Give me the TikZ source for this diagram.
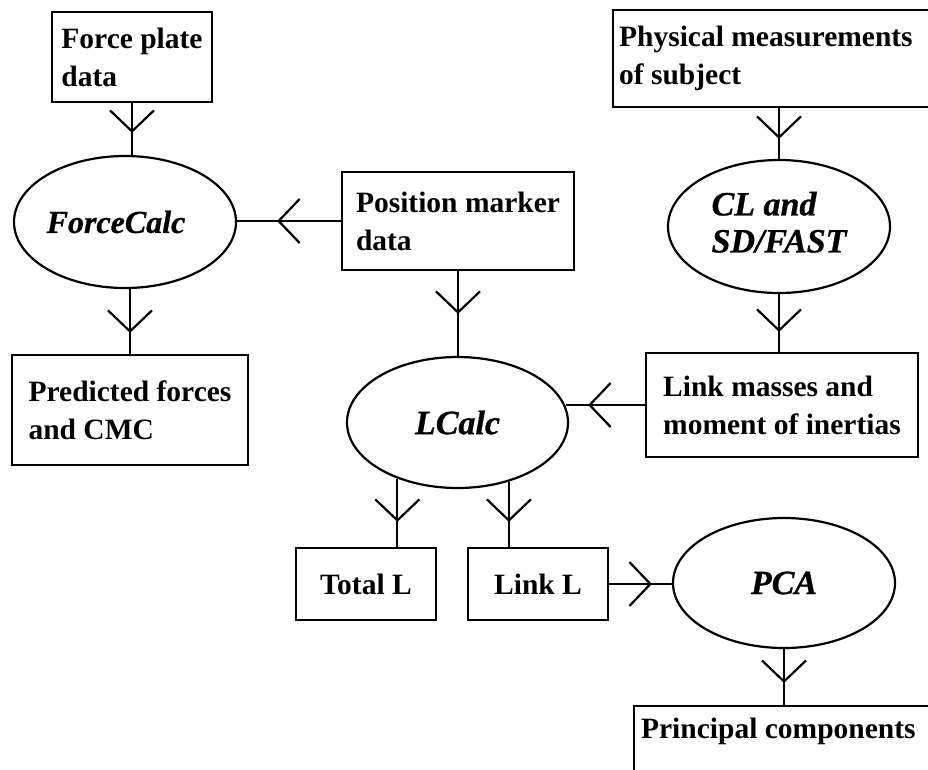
\documentclass[tikz,border=0pt]{standalone}
\usepackage{fontspec}
\setmainfont{Liberation Serif}[BoldItalicFeatures={FakeBold=0.8}]
\usetikzlibrary{shapes.geometric,arrows.meta,decorations.markings}
\begin{document}
\begin{tikzpicture}[x=1pt,y=-1pt,
  every node/.style={font=\fontsize{29.5}{38}\selectfont\bfseries},
  box/.style={draw, line width=2.2pt, rectangle, inner sep=0pt, align=left},
  proc/.style={draw, line width=2.2pt, ellipse, inner sep=0pt, minimum width=222pt, minimum height=132pt, align=left, font=\fontsize{34}{37}\selectfont\bfseries\itshape},
  link/.style={line width=2.2pt},
  flowto/.style={link, postaction={decorate}, decoration={markings, mark=at position -#1 with {\arrow{Straight Barb[length=21pt,width=44pt,line width=2.2pt]}}}},
]
\path[use as bounding box, clip] (0,0) rectangle (928,769);

% boxes
\node[box, minimum width=160pt, minimum height=90pt] (FP) at (132,57) {Force plate\\data};
\node[box, minimum width=232pt, minimum height=98pt] (Pos) at (458,221) {Position marker\\data};
\node[box, anchor=north west, text width=326pt, inner xsep=6pt, minimum height=97pt, align=flush left] (Phys) at (612,9) {Physical measurements\\of subject};
\node[box, minimum width=236pt, minimum height=110pt] (Pred) at (130,410) {Predicted forces\\and CMC};
\node[box, minimum width=272pt, minimum height=104pt] (LM) at (782,405) {Link masses and\\moment of inertias};
\node[box, minimum width=140pt, minimum height=72pt] (Total) at (366,584) {Total L};
\node[box, minimum width=140pt, minimum height=72pt] (LinkL) at (538,584) {Link L};
\node[box, anchor=north west, text width=310pt, inner xsep=7pt, inner ysep=12pt, align=flush left] (PC) at (633,705) {Principal components\\\strut};

% processes
\node[proc, font=\fontsize{32}{37}\selectfont\bfseries\itshape] (FC) at (125,222) {ForceCalc\hspace*{18pt}};
\node[proc, minimum height=133pt] (CL) at (779,226.5) {\raisebox{5pt}{\begin{tabular}{@{}l@{}}CL and\\SD/FAST\end{tabular}}};
\node[proc, minimum width=221pt, minimum height=131pt] (LC) at (457.5,422.5) {LCalc};
\node[proc, minimum height=130pt] (PCA) at (784,583) {PCA};

% connectors
\draw[flowto=22pt] (FP.south) -- (FP.south |- FC.north);
\draw[flowto=40pt] (Pos.west) -- (Pos.west -| FC.east);
\draw[flowto=21pt] (FC.south -| Pred.north) -- (Pred.north);
\draw[flowto=42pt] (Pos.south) -- (Pos.south |- LC.north);
\draw[flowto=20pt] (Phys.south -| CL.north) -- (CL.north);
\draw[flowto=20pt] (CL.south) -- (CL.south |- LM.north);
\draw[flowto=22pt] (LM.west) -- (LM.west -| LC.8);
\draw[flowto=25pt] (LC.223.4) -- (LC.223.4 |- Total.north);
\draw[flowto=25pt] (LC.-49.4) -- (LC.-49.4 |- LinkL.north);
\draw[flowto=20pt] (LinkL.east) -- (LinkL.east -| PCA.west);
\draw[flowto=22pt] (PCA.south) -- (PCA.south |- PC.north);
\end{tikzpicture}
\end{document}
